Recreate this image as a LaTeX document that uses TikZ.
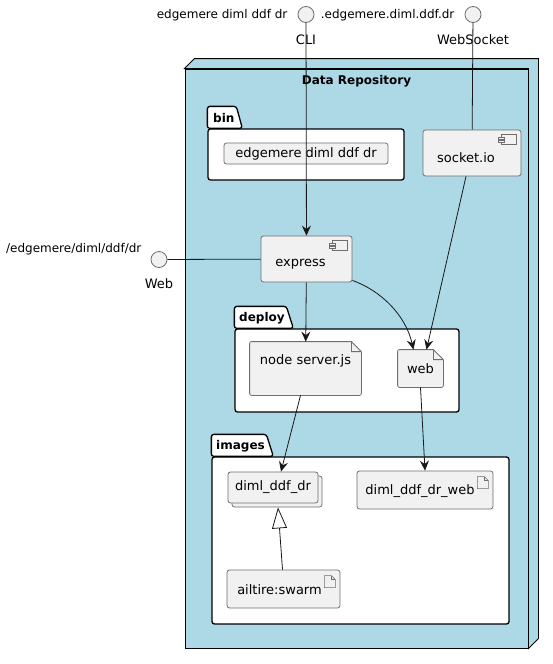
\documentclass[tikz,border=0pt]{standalone}
\usepackage{fontspec}
\setmainfont{DejaVu Sans}
\usepackage{tikz}
\usetikzlibrary{positioning, arrows.meta, calc, shadows}

\definecolor{repoblue}{HTML}{ADD8E6}
\definecolor{boxfill}{HTML}{F1F1F1}
\definecolor{boxline}{HTML}{6E6E6E}
\definecolor{inkline}{HTML}{181818}

\tikzset{
  compicon/.pic={
    \draw[boxline, fill=boxfill, line width=0.6pt] (-15,5) rectangle (0,15);
    \draw[boxline, fill=boxfill, line width=0.6pt] (-18,7.5) rectangle (-12,9.5);
    \draw[boxline, fill=boxfill, line width=0.6pt] (-18,11) rectangle (-12,13);
  },
  fileicon/.pic={
    \draw[boxline, fill=boxfill, line width=0.6pt] (-11,0) -- (-4,0) -- (0,4) -- (0,12) -- (-11,12) -- cycle;
    \draw[boxline, line width=0.6pt] (-4,0) -- (-4,4) -- (0,4);
  }
}

\begin{document}
\begin{tikzpicture}[x=1pt, y=-1pt, font=\fontsize{13}{15}\selectfont]
  \tikzstyle{iface}=[circle, draw=boxline, fill=boxfill, line width=0.8pt, minimum size=16pt, inner sep=0pt]
  \tikzstyle{ifacetag}=[inner sep=0pt, font=\fontsize{12}{14}\selectfont]
  \tikzstyle{ifacename}=[inner sep=0pt]
  \tikzstyle{elem}=[draw=boxline, fill=boxfill, line width=0.8pt, rounded corners=2.5pt, inner sep=0pt]
  \tikzstyle{pkgbody}=[draw=black, fill=white, line width=1.3pt, rounded corners=2.5pt, inner sep=0pt]
  \tikzstyle{pkgtab}=[draw=black, fill=white, line width=1.3pt, rounded corners=2.5pt]
  \tikzstyle{pkgtitle}=[inner sep=0pt, anchor=west, font=\bfseries\fontsize{12}{14}\selectfont]
  \tikzstyle{flow}=[inkline, line width=0.8pt, -{Stealth[length=10pt, width=9pt, inset=3.5pt]}]
  \tikzstyle{plain}=[inkline, line width=0.8pt]

  \useasboundingbox (0,0) rectangle (553,664);

  % interfaces
  \node[iface] (cliif) at (306,14.5) {};
  \node[ifacetag, left=10pt of cliif, yshift=-1pt] (cliurl) {edgemere diml ddf dr};
  \node[ifacename, below=12pt of cliif] (clilbl) {CLI};
  \node[iface] (wsif) at (473,14.5) {};
  \node[ifacetag, left=10pt of wsif, yshift=-1pt] (wsurl) {.edgemere.diml.ddf.dr};
  \node[ifacename, below=12pt of wsif] (wslbl) {WebSocket};
  \node[iface] (webif) at (159,259.5) {};
  \node[ifacetag, left=9pt of webif, yshift=10.5pt] (weburl) {/edgemere/diml/ddf/dr};
  \node[ifacename, below=10.5pt of webif] (weblbl) {Web};

  % node Data Repository
  \node[draw=black, fill=repoblue, line width=0.9pt, minimum width=343pt, minimum height=579pt, inner sep=0pt] (repo) at (356.5,358.5) {};
  \filldraw[fill=repoblue, draw=black, line width=0.9pt] (repo.north west) -- ++(10,-10) -- ($(repo.north east)+(10,-10)$)
    -- ($(repo.south east)+(10,-10)$) -- (repo.south east) -- (repo.north east) -- cycle;
  \node[inner sep=0pt, font=\bfseries\fontsize{12}{14}\selectfont, below=7pt of repo.north] (repotitle) {Data Repository};

  % package bin
  \node[pkgbody, minimum width=196pt, minimum height=51pt] (bin) at (306,154.5) {};
  \filldraw[pkgtab] (bin.north west) -- ++(0,-22) -- ++(29,0) -- ++(6,22) -- cycle;
  \node[pkgtitle] (bintitle) at (213,118) {bin};
  \node[elem, minimum width=164pt, minimum height=21pt] (binexe) at (306,153.5) {edgemere diml ddf dr};

  % socket.io and express
  \node[elem, minimum width=98pt, minimum height=46pt, label={[xshift=-6pt, yshift=-5pt]center:socket.io}] (sockio) at (472,153) {};
  \pic at ($(sockio.north east)+(-5,0)$) {compicon};
  \node[elem, minimum width=91pt, minimum height=46pt, label={[xshift=-6pt, yshift=-5pt]center:express}] (express) at (306.5,259) {};
  \pic at ($(express.north east)+(-5,0)$) {compicon};

  % package deploy
  \node[pkgbody, minimum width=224pt, minimum height=83pt] (deploy) at (347,370.5) {};
  \filldraw[pkgtab] (deploy.north west) -- ++(0,-22) -- ++(52,0) -- ++(7,22) -- cycle;
  \node[pkgtitle] (deploytitle) at (239,318) {deploy};
  \node[elem, draw=none, rounded corners=0pt, minimum width=111pt, minimum height=53pt, label={[yshift=7.5pt]center:node server.js}] (srvjs) at (305.5,368.5) {};
  \node[elem, draw=none, rounded corners=0pt, minimum width=45pt, minimum height=37pt, label={[yshift=0pt]center:web}] (webf) at (420.5,368.5) {};
  \foreach \doc in {srvjs, webf} {
    \fill[white] ($(\doc.north east)+(-10,0)$) -- (\doc.north east) -- ($(\doc.north east)+(0,10)$) -- cycle;
    \draw[boxline, line width=0.8pt, rounded corners=2pt] ($(\doc.north east)+(-10,0)$) -- (\doc.north west) -- (\doc.south west) -- (\doc.south east) -- ($(\doc.north east)+(0,10)$);
    \draw[boxline, line width=0.8pt] ($(\doc.north east)+(0,10)$) -- ($(\doc.north east)+(-10,0)$) -- ++(0,10) -- ++(10,0);
  }

  % package images
  \node[pkgbody, minimum width=297pt, minimum height=167pt] (images) at (360.5,540.5) {};
  \filldraw[pkgtab] (images.north west) -- ++(0,-22) -- ++(55,0) -- ++(7,22) -- cycle;
  \node[pkgtitle] (imagestitle) at (216,446) {images};
  \node[elem, minimum width=90pt, minimum height=31pt, copy shadow={shadow xshift=4pt, shadow yshift=-4pt}] (dimldr) at (273,487.5) {diml\_ddf\_dr};
  \node[elem, minimum width=136pt, minimum height=38pt, label={[xshift=-5pt, yshift=-1pt]center:diml\_ddf\_dr\_web}] (dimlweb) at (425,490) {};
  \pic at ($(dimlweb.north east)+(-5,6)$) {fileicon};
  \node[elem, minimum width=113pt, minimum height=38pt, label={[xshift=-4pt, yshift=-1pt]center:ailtire:swarm}] (swarm) at (283.5,589) {};
  \pic at ($(swarm.north east)+(-5,6)$) {fileicon};

  % connectors
  \path[flow] (cliif) edge (express);
  \path[plain] (wsif) edge (sockio);
  \path[plain] (webif) edge (express);
  \path[flow] (express) edge (srvjs);
  \draw[flow] ($(express.south east)+(0,-2)$) .. controls +(28,10) and +(-8,-35) .. ($(webf.north)+(-7,0)$);
  \draw[flow] ($(sockio.south)+(-6,0)$) -- ($(webf.north)+(6,0)$);
  \draw[flow] ($(srvjs.south)+(-5,0)$) -- ($(dimldr.north)+(8,0)$);
  \draw[flow] (webf.south) -- (dimlweb.north);
  \draw[plain, -{Triangle[open, length=21pt, width=15pt]}] ($(swarm.north)+(-1,0)$) -- ($(dimldr.south)+(5,4)$);
\end{tikzpicture}
\end{document}
